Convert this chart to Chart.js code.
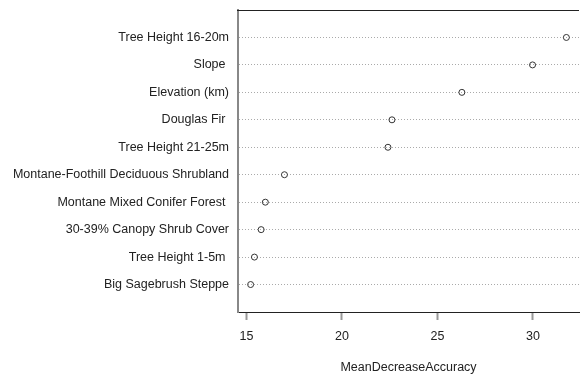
<!DOCTYPE html>
<html>
<head>
<meta charset="utf-8">
<script src="https://cdn.jsdelivr.net/npm/chart.js@4/dist/chart.umd.min.js"></script>
<style>
  html, body { margin: 0; padding: 0; background: #fff; overflow: hidden; }
  #wrap { width: 584px; height: 375px; }
</style>
</head>
<body>
<div id="wrap"><canvas id="c" width="584" height="375"></canvas></div>
<script>
// Variable importance, listed from top row to bottom row
const variables = [
  "Tree Height 16-20m",
  "Slope ",
  "Elevation (km)",
  "Douglas Fir ",
  "Tree Height 21-25m",
  "Montane-Foothill Deciduous Shrubland",
  "Montane Mixed Conifer Forest ",
  "30-39% Canopy Shrub Cover",
  "Tree Height 1-5m ",
  "Big Sagebrush Steppe"
];
const meanDecreaseAccuracy = [31.75, 29.98, 26.28, 22.62, 22.41, 16.99, 15.99, 15.77, 15.42, 15.22];
const xTickValues = [15, 20, 25, 30];
const xAxisTitle = "MeanDecreaseAccuracy";

const n = variables.length;
const points = meanDecreaseAccuracy.map((v, i) => ({ x: v, y: n - i }));

// x range padded by 4% on either side, like a base-graphics dot chart
const lo = Math.min(...meanDecreaseAccuracy);
const hi = Math.max(...meanDecreaseAccuracy);
const pad = (hi - lo) * 0.04;

const FONT = { family: "'Liberation Sans', Arial, sans-serif", size: 12.5 };

// top edge of the plotting box
const topBorder = {
  id: 'topBorder',
  afterDraw(chart) {
    const { ctx, chartArea: a } = chart;
    ctx.save();
    ctx.strokeStyle = '#222';
    ctx.lineWidth = 1;
    ctx.beginPath();
    ctx.moveTo(a.left - 1, a.top + 0.5);
    ctx.lineTo(a.right, a.top + 0.5);
    ctx.stroke();
    ctx.restore();
  }
};

function noEdgePadding(scale) {
  scale.paddingTop = 0;
  scale.paddingBottom = 0;
  scale.paddingLeft = 0;
  scale.paddingRight = 0;
}

new Chart(document.getElementById('c'), {
  type: 'scatter',
  data: {
    datasets: [{
      data: points,
      pointStyle: 'circle',
      pointRadius: 3,
      pointBorderWidth: 1,
      pointBorderColor: '#333',
      pointBackgroundColor: 'rgba(0,0,0,0)'
    }]
  },
  options: {
    responsive: false,
    animation: false,
    layout: { padding: { top: 10, left: 0, right: 0, bottom: 0 } },
    plugins: { legend: { display: false }, tooltip: { enabled: false } },
    scales: {
      x: {
        type: 'linear',
        position: 'bottom',
        min: lo - pad,
        max: hi + pad,
        afterBuildTicks(scale) { scale.ticks = xTickValues.map(v => ({ value: v })); },
        afterFit(scale) { scale.height = 63; noEdgePadding(scale); },
        grid: {
          display: true,
          drawOnChartArea: false,
          drawTicks: true,
          tickLength: 8,
          tickColor: '#999',
          tickWidth: 2
        },
        border: { display: true, color: '#222', width: 1 },
        ticks: {
          color: '#222',
          font: FONT,
          padding: 9,
          maxRotation: 0,
          callback: v => String(v)
        },
        title: {
          display: true,
          text: xAxisTitle,
          color: '#222',
          font: FONT,
          padding: { top: 0, bottom: 0 }
        }
      },
      y: {
        type: 'linear',
        min: 0,
        max: n + 1,
        afterBuildTicks(scale) {
          scale.ticks = variables.map((_, i) => ({ value: n - i }));
        },
        afterFit(scale) { scale.width = 238; noEdgePadding(scale); },
        grid: { color: '#aaa', lineWidth: 1, drawTicks: false },
        border: { display: true, color: '#888', width: 2, dash: [1, 2] },
        ticks: {
          color: '#222',
          font: FONT,
          padding: 9,
          autoSkip: false,
          callback: v => variables[n - v]
        }
      }
    }
  },
  plugins: [topBorder]
});
</script>
</body>
</html>
